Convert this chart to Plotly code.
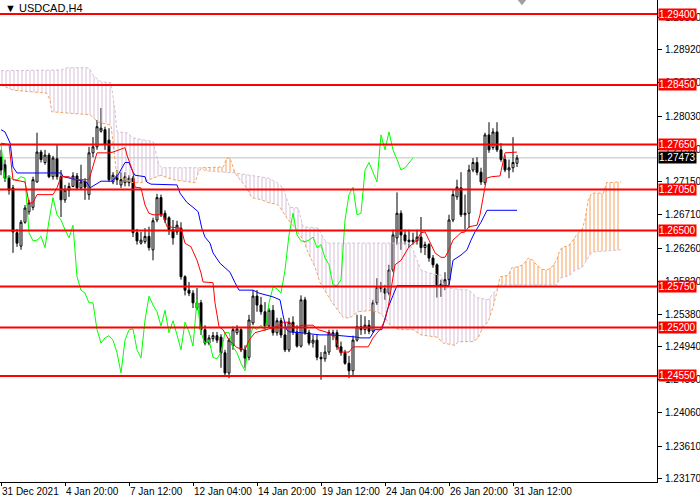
import plotly.graph_objects as go

# USDCAD H4 candles (bar index 0..129)
opens = [1.2748, 1.2738, 1.2720, 1.2707, 1.2647, 1.2629, 1.2661, 1.2675, 1.2681, 1.2715,
         1.2755, 1.2741, 1.2751, 1.2722, 1.2746, 1.2722, 1.2691, 1.2704, 1.2709, 1.2723,
         1.2707, 1.2715, 1.2698, 1.2754, 1.2762, 1.2783, 1.2785, 1.2771, 1.2715, 1.2723,
         1.2711, 1.2714, 1.2714, 1.2720, 1.2647, 1.2633, 1.2635, 1.2642, 1.2624, 1.2664,
         1.2694, 1.2673, 1.2667, 1.2651, 1.2648, 1.2653, 1.2588, 1.2570, 1.2566, 1.2546,
         1.2553, 1.2517, 1.2499, 1.2505, 1.2509, 1.2507, 1.2486, 1.2459, 1.2496, 1.2513,
         1.2517, 1.2490, 1.2480, 1.2526, 1.2562, 1.2550, 1.2541, 1.2522, 1.2543, 1.2513,
         1.2529, 1.2510, 1.2490, 1.2527, 1.2514, 1.2495, 1.2557, 1.2513, 1.2499, 1.2503,
         1.2480, 1.2478, 1.2487, 1.2509, 1.2513, 1.2494, 1.2486, 1.2472, 1.2462, 1.2503,
         1.2521, 1.2517, 1.2523, 1.2515, 1.2553, 1.2574, 1.2572, 1.2566, 1.2597, 1.2640,
         1.2673, 1.2644, 1.2637, 1.2635, 1.2636, 1.2641, 1.2627, 1.2631, 1.2613, 1.2604,
         1.2578, 1.2576, 1.2584, 1.2664, 1.2695, 1.2707, 1.2671, 1.2673, 1.2731, 1.2741,
         1.2728, 1.2714, 1.2778, 1.2761, 1.2782, 1.2758, 1.2745, 1.2731, 1.2734, 1.2740]
highs = [1.2758, 1.2745, 1.2724, 1.2711, 1.2652, 1.2664, 1.2684, 1.2691, 1.2722, 1.2781,
         1.2758, 1.2758, 1.2754, 1.2750, 1.2765, 1.2731, 1.2711, 1.2714, 1.2728, 1.2727,
         1.2738, 1.2720, 1.2762, 1.2775, 1.2798, 1.2814, 1.2789, 1.2787, 1.2728, 1.2731,
         1.2728, 1.2728, 1.2724, 1.2723, 1.2652, 1.2648, 1.2653, 1.2655, 1.2667, 1.2699,
         1.2698, 1.2677, 1.2669, 1.2664, 1.2663, 1.2661, 1.2590, 1.2581, 1.2570, 1.2573,
         1.2557, 1.2523, 1.2510, 1.2514, 1.2514, 1.2511, 1.2490, 1.2506, 1.2521, 1.2523,
         1.2519, 1.2496, 1.2537, 1.2570, 1.2570, 1.2561, 1.2554, 1.2546, 1.2550, 1.2533,
         1.2533, 1.2527, 1.2533, 1.2535, 1.2523, 1.2563, 1.2561, 1.2517, 1.2510, 1.2510,
         1.2487, 1.2496, 1.2517, 1.2517, 1.2517, 1.2501, 1.2490, 1.2482, 1.2509, 1.2537,
         1.2537, 1.2535, 1.2530, 1.2557, 1.2586, 1.2581, 1.2577, 1.2604, 1.2651, 1.2701,
         1.2677, 1.2651, 1.2651, 1.2647, 1.2651, 1.2668, 1.2635, 1.2633, 1.2617, 1.2606,
         1.2584, 1.2594, 1.2671, 1.2704, 1.2718, 1.2728, 1.2698, 1.2738, 1.2747, 1.2748,
         1.2734, 1.2781, 1.2795, 1.2787, 1.2795, 1.2767, 1.2751, 1.2745, 1.2775, 1.2751]
lows = [1.2724, 1.2715, 1.2698, 1.2620, 1.2628, 1.2624, 1.2659, 1.2671, 1.2677, 1.2714,
        1.2741, 1.2738, 1.2720, 1.2718, 1.2718, 1.2668, 1.2687, 1.2695, 1.2708, 1.2704,
        1.2704, 1.2691, 1.2691, 1.2748, 1.2758, 1.2781, 1.2758, 1.2715, 1.2712, 1.2711,
        1.2707, 1.2709, 1.2709, 1.2641, 1.2631, 1.2631, 1.2632, 1.2623, 1.2610, 1.2661,
        1.2668, 1.2660, 1.2644, 1.2631, 1.2644, 1.2584, 1.2563, 1.2562, 1.2546, 1.2543,
        1.2510, 1.2496, 1.2496, 1.2501, 1.2499, 1.2466, 1.2456, 1.2452, 1.2490, 1.2510,
        1.2487, 1.2466, 1.2476, 1.2523, 1.2541, 1.2537, 1.2517, 1.2519, 1.2509, 1.2509,
        1.2506, 1.2487, 1.2487, 1.2510, 1.2493, 1.2493, 1.2510, 1.2496, 1.2493, 1.2476,
        1.2450, 1.2474, 1.2483, 1.2503, 1.2490, 1.2482, 1.2470, 1.2452, 1.2456, 1.2501,
        1.2510, 1.2511, 1.2511, 1.2513, 1.2550, 1.2567, 1.2557, 1.2563, 1.2594, 1.2631,
        1.2624, 1.2631, 1.2627, 1.2631, 1.2631, 1.2620, 1.2617, 1.2608, 1.2600, 1.2560,
        1.2561, 1.2570, 1.2577, 1.2661, 1.2691, 1.2668, 1.2651, 1.2653, 1.2728, 1.2724,
        1.2711, 1.2711, 1.2754, 1.2758, 1.2755, 1.2742, 1.2728, 1.2720, 1.2728, 1.2735]
closes = [1.2731, 1.2720, 1.2704, 1.2648, 1.2633, 1.2661, 1.2680, 1.2687, 1.2718, 1.2755,
          1.2745, 1.2751, 1.2722, 1.2747, 1.2722, 1.2691, 1.2704, 1.2709, 1.2723, 1.2707,
          1.2715, 1.2708, 1.2754, 1.2762, 1.2789, 1.2787, 1.2765, 1.2718, 1.2724, 1.2718,
          1.2718, 1.2722, 1.2720, 1.2647, 1.2636, 1.2637, 1.2642, 1.2627, 1.2663, 1.2694,
          1.2671, 1.2664, 1.2651, 1.2640, 1.2657, 1.2588, 1.2570, 1.2566, 1.2553, 1.2553,
          1.2517, 1.2499, 1.2506, 1.2509, 1.2503, 1.2486, 1.2459, 1.2503, 1.2517, 1.2518,
          1.2490, 1.2479, 1.2530, 1.2562, 1.2550, 1.2541, 1.2522, 1.2543, 1.2513, 1.2529,
          1.2510, 1.2490, 1.2527, 1.2514, 1.2495, 1.2557, 1.2513, 1.2499, 1.2503, 1.2480,
          1.2478, 1.2487, 1.2513, 1.2513, 1.2494, 1.2486, 1.2472, 1.2462, 1.2503, 1.2521,
          1.2517, 1.2523, 1.2515, 1.2553, 1.2574, 1.2572, 1.2566, 1.2597, 1.2644, 1.2673,
          1.2644, 1.2636, 1.2635, 1.2637, 1.2641, 1.2627, 1.2631, 1.2613, 1.2604, 1.2577,
          1.2576, 1.2584, 1.2664, 1.2698, 1.2708, 1.2671, 1.2673, 1.2731, 1.2741, 1.2728,
          1.2715, 1.2778, 1.2758, 1.2782, 1.2758, 1.2745, 1.2731, 1.2734, 1.2741, 1.2747]
bars = list(range(len(closes)))

# Ichimoku lines, read as vertices (bar, price)
tenkan_x = [0, 2, 3, 6, 7, 8, 9, 13, 14, 15, 17, 18, 22, 23, 24, 27, 28, 31, 31.5, 33,
            33.5, 35, 36, 37, 38, 40.5, 41.5, 45, 46, 47.5, 49, 50, 50.5, 53, 53.5, 54.5,
            55.5, 57, 59, 61, 62, 63.5, 66, 69, 70.6, 72, 74, 75, 78, 79.3, 81.8, 83.5,
            84.3, 84.7, 87, 88, 91.8, 93, 95, 96, 96.8, 97.5, 98.5, 99, 100, 102, 104, 105,
            106, 107, 108.5, 110, 111, 112, 113, 115, 116, 117, 119, 119.75, 120.5, 121.4,
            122.6, 124.75, 126, 129]
tenkan_y = [1.2767, 1.2765, 1.2718, 1.2715, 1.2687, 1.2687, 1.2698, 1.2698, 1.2707, 1.2722,
            1.2722, 1.2718, 1.2718, 1.2735, 1.2754, 1.2754, 1.2755, 1.2761, 1.2751, 1.2728,
            1.2708, 1.2707, 1.2684, 1.2673, 1.2671, 1.2671, 1.2655, 1.2653, 1.2633, 1.2628,
            1.2610, 1.2593, 1.2581, 1.2580, 1.2553, 1.2521, 1.2517, 1.2503, 1.2493, 1.2490,
            1.2503, 1.2513, 1.2517, 1.2521, 1.2527, 1.2527, 1.2519, 1.2523, 1.2523, 1.2517,
            1.2513, 1.2507, 1.2494, 1.2487, 1.2487, 1.2494, 1.2494, 1.2506, 1.2519, 1.2530,
            1.2547, 1.2570, 1.2604, 1.2606, 1.2610, 1.2628, 1.2637, 1.2647, 1.2648, 1.2637,
            1.2620, 1.2614, 1.2614, 1.2624, 1.2637, 1.2647, 1.2648, 1.2655, 1.2657, 1.2671,
            1.2695, 1.2720, 1.2722, 1.2723, 1.2754, 1.2755]

kijun_x = [0, 1, 2.3, 3, 4, 15, 15.6, 21.4, 22.25, 23.5, 25, 27.7, 29, 31, 32, 33, 33.5,
           36, 36.4, 37.5, 44, 44.75, 46.4, 48, 49.3, 50.2, 51, 52.25, 53, 54.75, 57.25,
           58.5, 59.5, 63, 64.5, 68, 69.75, 70.6, 71.4, 72.2, 74.75, 79.75, 82.7, 89, 89.75,
           92.25, 93.5, 95.2, 96.8, 98, 99, 112, 113, 115, 116.5, 117.5, 118.5, 120, 121.5, 129]
kijun_y = [1.2785, 1.2782, 1.2767, 1.2735, 1.2727, 1.2727, 1.2722, 1.2715, 1.2707, 1.2711,
           1.2716, 1.2716, 1.2722, 1.2741, 1.2741, 1.2728, 1.2724, 1.2722, 1.2715, 1.2712,
           1.2711, 1.2700, 1.2688, 1.2681, 1.2675, 1.2653, 1.2641, 1.2633, 1.2620, 1.2606,
           1.2594, 1.2580, 1.2570, 1.2570, 1.2566, 1.2561, 1.2557, 1.2534, 1.2517, 1.2514,
           1.2513, 1.2510, 1.2510, 1.2507, 1.2506, 1.2506, 1.2517, 1.2517, 1.2547, 1.2563,
           1.2576, 1.2576, 1.2610, 1.2617, 1.2624, 1.2637, 1.2648, 1.2661, 1.2677, 1.2677]

span_a_x = [0, 3, 11.4, 12.25, 12.7, 19, 22.25, 24.3, 27.5, 28.2, 29, 33, 35, 37, 40, 43,
            48.5, 49.3, 50.1, 55.6, 56.4, 57.25, 58, 58.5, 59.75, 61.4, 62.7, 65.2, 67, 69,
            69.75, 71.8, 73.5, 75.6, 76.8, 78.5, 79.75, 81.4, 82.7, 84.75, 85.6, 87.25, 89.3,
            92.7, 94.75, 96.4, 97.6, 99.75, 103, 105, 109, 110.6, 113.5, 114.3, 118, 119.3,
            120.5, 121.75, 123, 123.9, 124.2, 124.75, 126.8, 127.7, 128.9, 130.5, 131.8, 133,
            133.9, 135.2, 136.5, 137.7, 138.9, 139.75, 140.6, 141.8, 142.7, 143.9, 145.2, 146,
            146.8, 147.7, 150.6, 151.4, 155]
span_a_y = [1.2845, 1.2838, 1.2834, 1.2825, 1.2809, 1.2807, 1.2805, 1.2795, 1.2791, 1.2758,
            1.2722, 1.2714, 1.2714, 1.2718, 1.2724, 1.2718, 1.2714, 1.2727, 1.2734, 1.2735,
            1.2747, 1.2747, 1.2735, 1.2727, 1.2718, 1.2707, 1.2694, 1.2691, 1.2687, 1.2685,
            1.2681, 1.2664, 1.2653, 1.2637, 1.2620, 1.2601, 1.2580, 1.2566, 1.2554, 1.2539,
            1.2533, 1.2533, 1.2541, 1.2543, 1.2539, 1.2530, 1.2521, 1.2517, 1.2517, 1.2510,
            1.2507, 1.2499, 1.2496, 1.2501, 1.2501, 1.2506, 1.2521, 1.2527, 1.2547, 1.2566,
            1.2573, 1.2588, 1.2590, 1.2600, 1.2601, 1.2604, 1.2613, 1.2610, 1.2604, 1.2598,
            1.2597, 1.2601, 1.2610, 1.2624, 1.2628, 1.2629, 1.2635, 1.2644, 1.2651, 1.2664,
            1.2691, 1.2700, 1.2700, 1.2714, 1.2715]

span_b_x = [0, 15, 16.5, 22, 23, 25, 27.5, 28.5, 29, 31.5, 33, 38, 39.5, 40.2, 50.1, 51,
            58.5, 62, 64.75, 67, 69, 70.5, 72.2, 74.3, 75.5, 79.3, 80.9, 81.8, 102, 103, 105,
            107, 110, 111, 117, 119, 121.8, 124.2, 124.75, 138.9, 139.75, 142.25, 143.5,
            145.2, 146.4, 147.7, 155]
span_b_y = [1.2864, 1.2865, 1.2868, 1.2868, 1.2858, 1.2849, 1.2848, 1.2811, 1.2782, 1.2781,
            1.2774, 1.2769, 1.2738, 1.2734, 1.2734, 1.2730, 1.2727, 1.2724, 1.2722, 1.2720,
            1.2714, 1.2707, 1.2681, 1.2680, 1.2655, 1.2653, 1.2637, 1.2633, 1.2633, 1.2624,
            1.2597, 1.2593, 1.2590, 1.2573, 1.2570, 1.2560, 1.2557, 1.2573, 1.2577, 1.2577,
            1.2586, 1.2590, 1.2597, 1.2600, 1.2610, 1.2621, 1.2624]

# cloud segments between crossings: (start, end, colour)
cloud_parts = [(0, 50.1, "#D8BFD8"), (50.1, 58.5, "#F4A460"),
               (58.5, 124.2, "#D8BFD8"), (124.2, 155, "#F4A460")]

levels = [1.2940, 1.2845, 1.2765, 1.2705, 1.2650, 1.2575, 1.2520, 1.2455]
last_price = 1.27473

y_ticks = [1.29360, 1.28920, 1.28480, 1.28030, 1.27590, 1.27150, 1.26710, 1.26260,
           1.25820, 1.25380, 1.24940, 1.24500, 1.24060, 1.23610, 1.23170]
x_ticks = [0, 16, 32, 48, 64, 80, 96, 112, 128]
x_labels = ["31 Dec 2021", "4 Jan 20:00", "7 Jan 12:00", "12 Jan 04:00", "14 Jan 20:00",
            "19 Jan 12:00", "24 Jan 04:00", "26 Jan 20:00", "31 Jan 12:00"]

FONT = "Liberation Sans"

fig = go.Figure()


def part(xs, ys, a, b):
    return [(x, y) for x, y in zip(xs, ys) if a <= x <= b]


for a, b, col in cloud_parts:
    top = part(span_a_x, span_a_y, a, b)
    bot = part(span_b_x, span_b_y, a, b)[::-1]
    pts = top + bot
    fig.add_trace(go.Scatter(
        x=[p[0] for p in pts], y=[p[1] for p in pts], mode="lines",
        line=dict(width=0), fill="toself", fillcolor="rgba(0,0,0,0)",
        fillpattern=dict(shape="|", size=4, solidity=0.5, fgcolor=col,
                         bgcolor="rgba(0,0,0,0)"),
        hoverinfo="skip"))

fig.add_trace(go.Scatter(x=span_b_x, y=span_b_y, mode="lines",
                         line=dict(color="#D8BFD8", width=1, dash="3px,2px")))
fig.add_trace(go.Scatter(x=span_a_x, y=span_a_y, mode="lines",
                         line=dict(color="#F4A460", width=1, dash="3px,2px")))

fig.add_trace(go.Candlestick(
    x=bars, open=opens, high=highs, low=lows, close=closes,
    increasing=dict(line=dict(color="black", width=1), fillcolor="white"),
    decreasing=dict(line=dict(color="black", width=1), fillcolor="black"),
    whiskerwidth=0))

fig.add_trace(go.Scatter(x=bars[:-26], y=closes[26:], mode="lines",
                         line=dict(color="#00FF00", width=1)))
fig.add_trace(go.Scatter(x=kijun_x, y=kijun_y, mode="lines",
                         line=dict(color="#0000FF", width=1)))
fig.add_trace(go.Scatter(x=tenkan_x, y=tenkan_y, mode="lines",
                         line=dict(color="#FF0000", width=1)))

fig.add_shape(type="line", xref="paper", x0=0, x1=1, y0=last_price, y1=last_price,
              line=dict(color="#C0C0C0", width=1), layer="below")
for lv in levels:
    fig.add_shape(type="line", xref="paper", x0=0, x1=1, y0=lv, y1=lv,
                  line=dict(color="#FF0000", width=2), layer="above")
    fig.add_annotation(xref="paper", x=1, y=lv, xanchor="left", yanchor="middle",
                       text="%.5f" % lv, showarrow=False, bgcolor="#FF0000",
                       font=dict(color="white", size=10, family=FONT),
                       borderpad=0, xshift=1)
fig.add_annotation(xref="paper", x=1, y=last_price, xanchor="left", yanchor="middle",
                   text="%.5f" % last_price, showarrow=False, bgcolor="black",
                   font=dict(color="white", size=10, family=FONT),
                   borderpad=0, xshift=1)
fig.add_annotation(xref="paper", yref="paper", x=0, y=1, xanchor="left", yanchor="top",
                   text="▼ USDCAD,H4", showarrow=False, xshift=3, yshift=0,
                   font=dict(color="black", size=11, family=FONT))
# small grey shift marker at top edge
fig.add_shape(type="path", xref="paper", yref="paper",
              path="M 0.788 1 L 0.801 1 L 0.7945 0.989 Z",
              fillcolor="#A0A0A0", line=dict(width=0))

fig.update_layout(
    width=700, height=500, margin=dict(l=0, r=43, t=0, b=18, autoexpand=False),
    paper_bgcolor="white", plot_bgcolor="white", showlegend=False,
    font=dict(family=FONT, size=10, color="black"),
    xaxis=dict(range=[-0.25, 164], tickvals=x_ticks, ticktext=x_labels,
               ticks="outside", ticklen=3, tickcolor="black", tickangle=0,
               ticklabelposition="outside right", automargin=False,
               showgrid=False, zeroline=False, showline=True, linecolor="black",
               rangeslider=dict(visible=False), fixedrange=True),
    yaxis=dict(range=[1.23129, 1.29588], side="right", tickvals=y_ticks,
               ticktext=["%.5f" % v for v in y_ticks], ticks="outside", ticklen=4,
               tickcolor="black", showgrid=False, zeroline=False, showline=True,
               linecolor="black", fixedrange=True, automargin=False,
               ticklabelstandoff=1),
)

fig.write_html("out.html", config={"displayModeBar": False},
               post_script="document.body.style.margin='0';"
                           "document.body.style.overflow='hidden';")
